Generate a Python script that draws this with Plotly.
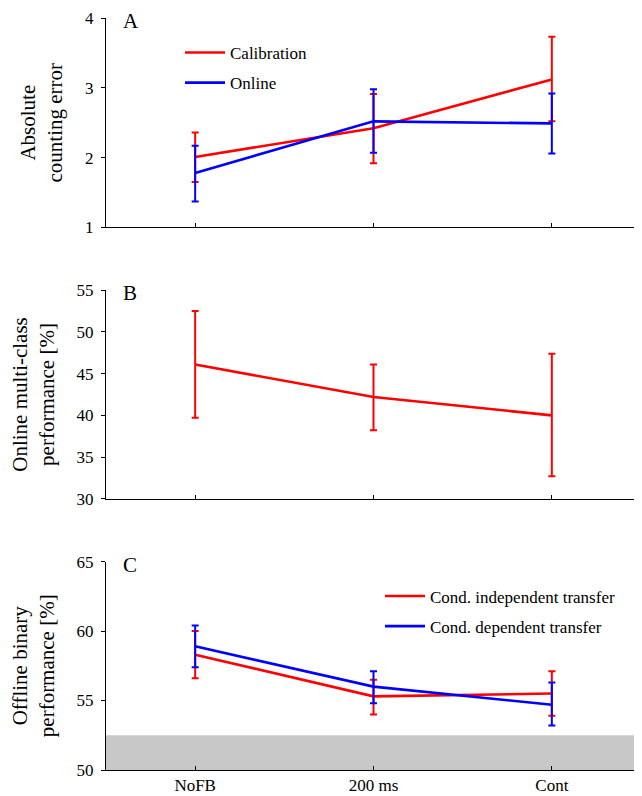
import plotly.graph_objects as go
import numpy as np

categories = ["NoFB", "200 ms", "Cont"]

# Panel A: absolute counting error
calib_mean = [2.01, 2.42, 3.12]
calib_upper = [2.36, 2.91, 3.73]
calib_lower = [1.65, 1.92, 2.52]
online_mean = [1.78, 2.52, 2.49]
online_upper = [2.17, 2.98, 2.92]
online_lower = [1.37, 2.07, 2.06]

# Panel B: online multi-class performance
multi_mean = [46.1, 42.2, 40.0]
multi_upper = [52.5, 46.1, 47.4]
multi_lower = [39.7, 38.2, 32.7]

# Panel C: offline binary performance
indep_mean = [58.3, 55.3, 55.5]
indep_upper = [60.0, 56.5, 57.1]
indep_lower = [56.6, 54.0, 53.9]
dep_mean = [58.9, 56.0, 54.7]
dep_upper = [60.4, 57.1, 56.3]
dep_lower = [57.4, 54.8, 53.2]

chance_level = 52.5

RED = "#ff0000"
BLUE = "#0000ff"
FONT = "Liberation Serif, Times New Roman, serif"

xpos = list(range(len(categories)))

# page geometry (the page body adds an 8px offset)
OFF = 8
W, H = 642 - OFF, 796 - OFF
PX0, PX1 = 106, 641          # plot area left/right on page
PY0, PY1 = 17, 771           # plot area top/bottom on page
ML, MR = PX0 - OFF, (W + OFF) - PX1
MT, MB = PY0 - OFF, (H + OFF) - PY1
PW, PH = PX1 - PX0, PY1 - PY0


def xp(px):
    return (px - PX0) / PW


def yp(py):
    return (PY1 - py) / PH


def trace(mean, upper, lower, color, name, xa, ya, legend="legend", show=True, group=None):
    m = np.array(mean)
    return go.Scatter(
        x=xpos, y=mean, mode="lines", name=name,
        line=dict(color=color, width=2.6),
        error_y=dict(type="data", symmetric=False,
                     array=list(np.array(upper) - m),
                     arrayminus=list(m - np.array(lower)),
                     color=color, thickness=2, width=3.5),
        xaxis=xa, yaxis=ya, showlegend=show, legend=legend,
        legendgroup=group,
    )


fig = go.Figure()
fig.add_trace(trace(calib_mean, calib_upper, calib_lower, RED, "Calibration", "x", "y", "legend", group="a1"))
fig.add_trace(trace(online_mean, online_upper, online_lower, BLUE, "Online", "x", "y", "legend", group="a2"))
fig.add_trace(trace(multi_mean, multi_upper, multi_lower, RED, "multi", "x2", "y2", show=False))
fig.add_trace(trace(indep_mean, indep_upper, indep_lower, RED, "Cond. independent transfer", "x3", "y3", "legend2", group="c1"))
fig.add_trace(trace(dep_mean, dep_upper, dep_lower, BLUE, "Cond. dependent transfer", "x3", "y3", "legend2", group="c2"))

dA = [yp(227), yp(17)]
dB = [yp(499), yp(290)]
dC = [yp(771), yp(562)]

tickfont = dict(family=FONT, size=17, color="black")
xcommon = dict(range=[-0.5, 2.5], showgrid=False, zeroline=False,
               showline=True, linecolor="black", linewidth=1,
               ticks="inside", ticklen=4, tickcolor="black",
               tickvals=xpos, ticktext=categories, tickfont=tickfont)
ycommon = dict(showgrid=False, zeroline=False, showline=True,
               linecolor="black", linewidth=1, ticks="outside", ticklen=4,
               tickcolor="black", tickfont=tickfont, ticklabelstandoff=4)

title_font = dict(family=FONT, size=21, color="black")
legend_font = dict(family=FONT, size=17, color="black")

fig.update_layout(
    width=W, height=H,
    margin=dict(l=ML, r=MR, t=MT, b=MB, pad=0),
    paper_bgcolor="white", plot_bgcolor="white",
    font=dict(family=FONT, color="black"),
    xaxis=dict(**xcommon, anchor="y", showticklabels=False),
    xaxis2=dict(**xcommon, anchor="y2", showticklabels=False),
    xaxis3=dict(**xcommon, anchor="y3", showticklabels=True),
    yaxis=dict(**ycommon, domain=dA, anchor="x", range=[1, 4], tickvals=[1, 2, 3, 4],
               title=dict(text="Absolute<br>counting error", font=title_font, standoff=16)),
    yaxis2=dict(**ycommon, domain=dB, anchor="x2", range=[30, 55],
                tickvals=[30, 35, 40, 45, 50, 55],
                title=dict(text="Online multi-class<br>performance [%]", font=title_font, standoff=16)),
    yaxis3=dict(**ycommon, domain=dC, anchor="x3", range=[50, 65],
                tickvals=[50, 55, 60, 65],
                title=dict(text="Offline binary<br>performance [%]", font=title_font, standoff=16)),
    legend=dict(x=xp(180), y=yp(34), xanchor="left", yanchor="top",
                bgcolor="rgba(0,0,0,0)", font=legend_font, tracegroupgap=5,
                itemwidth=40),
    legend2=dict(x=xp(380), y=yp(579), xanchor="left", yanchor="top",
                 bgcolor="rgba(0,0,0,0)", font=legend_font, tracegroupgap=5,
                 itemwidth=40),
    shapes=[dict(type="rect", xref="x3 domain", yref="y3", x0=0, x1=1,
                 y0=50, y1=chance_level, fillcolor="#c8c8c8",
                 line=dict(width=0), layer="below")],
    annotations=[
        dict(text=t, xref="paper", yref="paper", x=xp(121), y=d[1],
             xanchor="left", yanchor="top", showarrow=False, yshift=11,
             font=dict(family=FONT, size=21, color="black"))
        for t, d in [("A", dA), ("B", dB), ("C", dC)]
    ],
)

fig.write_html("out.html")
